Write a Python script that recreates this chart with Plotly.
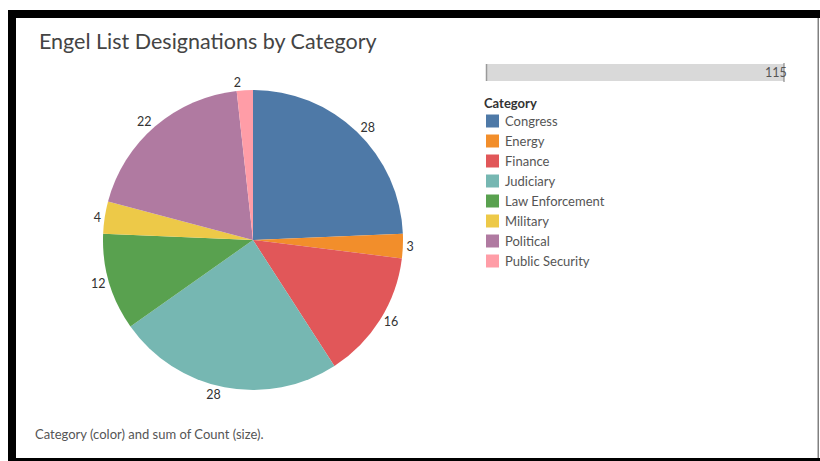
import plotly.graph_objects as go

categories = ["Congress", "Energy", "Finance", "Judiciary", "Law Enforcement",
              "Military", "Political", "Public Security"]
counts = [28, 3, 16, 28, 12, 4, 22, 2]
colors = ["#4e79a7", "#f28e2b", "#e15759", "#76b7b2", "#59a14f",
          "#edc948", "#b07aa1", "#ff9da7"]

title_text = "Engel List Designations by Category"
legend_title = "Category"
footer_text = "Category (color) and sum of Count (size)."

W, H = 820, 461
FONT = "Lato"


def px(x):
    return x / W


def py(y):
    return 1 - y / H


fig = go.Figure()
fig.add_trace(go.Pie(
    labels=categories,
    values=counts,
    marker=dict(colors=colors, line=dict(width=0)),
    sort=False,
    direction="clockwise",
    rotation=0,
    textinfo="value",
    textposition="outside",
    outsidetextfont=dict(family=FONT, size=12.5, color="#333333"),
    domain=dict(x=[px(103), px(403)], y=[py(390), py(90)]),
    showlegend=False,
    hoverinfo="label+value",
))

shapes = [
    # frame
    dict(type="rect", xref="paper", yref="paper", x0=px(8), x1=px(820), y0=py(18), y1=py(10),
         fillcolor="black", line=dict(width=0), layer="above"),
    dict(type="rect", xref="paper", yref="paper", x0=px(8), x1=px(16), y0=py(461), y1=py(10),
         fillcolor="black", line=dict(width=0), layer="above"),
    dict(type="rect", xref="paper", yref="paper", x0=px(8), x1=px(820), y0=py(461), y1=py(458),
         fillcolor="black", line=dict(width=0), layer="above"),
    dict(type="rect", xref="paper", yref="paper", x0=px(817.5), x1=px(819), y0=py(458), y1=py(18),
         fillcolor="#808080", line=dict(width=0), layer="above"),
    # size legend bar
    dict(type="rect", xref="paper", yref="paper", x0=px(486), x1=px(784), y0=py(81), y1=py(64),
         fillcolor="#d9d9d9", line=dict(width=0)),
    dict(type="line", xref="paper", yref="paper", x0=px(486.5), x1=px(486.5), y0=py(81), y1=py(64),
         line=dict(color="#9a9a9a", width=1.5)),
    dict(type="line", xref="paper", yref="paper", x0=px(784), x1=px(784), y0=py(82), y1=py(63),
         line=dict(color="#777777", width=1)),
]

annotations = [
    dict(text=title_text, x=px(37), y=py(41), xref="paper", yref="paper",
         xanchor="left", yanchor="middle", showarrow=False,
         font=dict(family=FONT, size=21.5, color="#444444")),
    dict(text=str(sum(counts)), x=px(789), y=py(73), xref="paper", yref="paper",
         xanchor="right", yanchor="middle", showarrow=False,
         font=dict(family=FONT, size=12.5, color="#555555")),
    dict(text=footer_text, x=px(33), y=py(434), xref="paper", yref="paper",
         xanchor="left", yanchor="middle", showarrow=False,
         font=dict(family=FONT, size=13, color="#555555")),
    dict(text="<b>" + legend_title + "</b>", x=px(482), y=py(103), xref="paper", yref="paper",
         xanchor="left", yanchor="middle", showarrow=False,
         font=dict(family=FONT, size=13, color="#333333")),
]

# colour legend built from the category / colour lists
row0, step = 121, 20
for i, (cat, col) in enumerate(zip(categories, colors)):
    yc = row0 + i * step
    shapes.append(dict(type="rect", xref="paper", yref="paper",
                       x0=px(486), x1=px(499), y0=py(yc + 6.5), y1=py(yc - 6.5),
                       fillcolor=col, line=dict(width=0)))
    annotations.append(dict(text=cat, x=px(503), y=py(yc), xref="paper", yref="paper",
                            xanchor="left", yanchor="middle", showarrow=False,
                            font=dict(family=FONT, size=13, color="#555555")))

fig.update_layout(
    width=W, height=H,
    margin=dict(l=0, r=0, t=0, b=0),
    paper_bgcolor="white",
    plot_bgcolor="white",
    shapes=shapes,
    annotations=annotations,
    showlegend=False,
)

fig.write_html("out.html")
